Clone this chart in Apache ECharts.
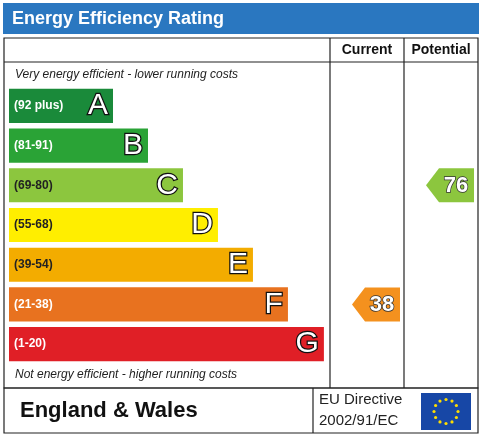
<!DOCTYPE html>
<html><head><meta charset="utf-8">
<script src="https://cdn.jsdelivr.net/npm/echarts@6/dist/echarts.min.js"></script>
<style>html,body{margin:0;padding:0;background:#fff}#c{width:483px;height:437px}</style>
</head><body><div id="c"></div>
<script>
const bands = ['A','B','C','D','E','F','G'];
const ranges = ['(92 plus)','(81-91)','(69-80)','(55-68)','(39-54)','(21-38)','(1-20)'];
const barLengths = [32.4, 43.3, 54.2, 65.1, 76, 86.9, 98.1];
const colors = ['#1a8a3a','#2aa336','#8cc63e','#ffee00','#f3ac00','#e8721f','#e01f26'];
const rangeTextColors = ['#fff','#fff','#222','#222','#222','#fff','#fff'];
const currentRating = {value: 38, band: 'F'};
const potentialRating = {value: 76, band: 'C'};
const arrowColor = {A:'#1a8a3a',B:'#2aa336',C:'#8cc63e',D:'#ffee00',E:'#f3ac00',F:'#f4911e',G:'#e01f26'};

const chart = echarts.init(document.getElementById('c'));
const F = 'Arial, "Liberation Sans", sans-serif';
const gridTop = 86, gridH = 278;
function arrowSeries(idx, rating){
  return {
    type:'custom', xAxisIndex:idx, yAxisIndex:idx,
    data:[[0.5, rating.band, rating.value]],
    renderItem:(params, api)=>{
      const p = api.coord([api.value(0), bands.indexOf(rating.band)]);
      const h = 34, w = 48, x0 = p[0]-w/2+9, tip = 13;
      const col = arrowColor[rating.band];
      return {type:'group', children:[
        {type:'polygon', shape:{points:[[x0,p[1]],[x0+tip,p[1]-h/2],[x0+w,p[1]-h/2],[x0+w,p[1]+h/2],[x0+tip,p[1]+h/2]]}, style:{fill:col}},
        {type:'text', style:{text:String(api.value(2)), x:x0+w/2+6, y:p[1]+1, align:'center', verticalAlign:'middle', font:'bold 22px '+F, fill:'#fff', stroke:'#333', lineWidth:1.5}}
      ]};
    }
  };
}
const yBase = {type:'category', data:bands, inverse:true, show:false};
chart.setOption({
  animation:false,
  grid:[
    {left:9, top:gridTop, width:321, height:gridH},
    {left:330, top:gridTop, width:74, height:gridH},
    {left:404, top:gridTop, width:74, height:gridH}
  ],
  xAxis:[
    {type:'value', min:0, max:100, show:false, gridIndex:0},
    {type:'value', min:0, max:1, show:false, gridIndex:1},
    {type:'value', min:0, max:1, show:false, gridIndex:2}
  ],
  yAxis:[Object.assign({gridIndex:0},yBase),Object.assign({gridIndex:1},yBase),Object.assign({gridIndex:2},yBase)],
  series:[
    {type:'bar', barCategoryGap:'14%',
     data: barLengths.map((v,i)=>({value:v, itemStyle:{color:colors[i]}, label:{color:rangeTextColors[i]}})),
     label:{show:true, position:'insideLeft', distance:5, formatter:p=>ranges[p.dataIndex],
       fontWeight:'bold', fontSize:12, fontFamily:F}},
    {type:'bar', barCategoryGap:'14%', barGap:'-100%', silent:true,
     data: barLengths.map(v=>({value:v, itemStyle:{color:'transparent'}})),
     label:{show:true, position:'insideRight', distance:5, formatter:p=>bands[p.dataIndex], fontSize:30, fontFamily:F,
       color:'#fff', textBorderColor:'#111', textBorderWidth:2.5}},
    arrowSeries(1, currentRating),
    arrowSeries(2, potentialRating)
  ],
  graphic:[
    {type:'rect', shape:{x:3,y:3,width:476,height:31}, style:{fill:'#2a77c0'}},
    {type:'text', style:{text:'Energy Efficiency Rating', x:12, y:19, verticalAlign:'middle', font:'bold 18px '+F, fill:'#fff'}},
    {type:'rect', shape:{x:4,y:38,width:474,height:350}, style:{fill:'none', stroke:'#222', lineWidth:1.2}},
    {type:'line', shape:{x1:4,y1:62,x2:478,y2:62}, style:{stroke:'#222', lineWidth:1.2}},
    {type:'line', shape:{x1:330,y1:38,x2:330,y2:388}, style:{stroke:'#222', lineWidth:1.2}},
    {type:'line', shape:{x1:404,y1:38,x2:404,y2:388}, style:{stroke:'#222', lineWidth:1.2}},
    {type:'text', style:{text:'Current', x:367, y:50, align:'center', verticalAlign:'middle', font:'bold 14px '+F, fill:'#111'}},
    {type:'text', style:{text:'Potential', x:441, y:50, align:'center', verticalAlign:'middle', font:'bold 14px '+F, fill:'#111'}},
    {type:'text', style:{text:'Very energy efficient - lower running costs', x:15, y:75, verticalAlign:'middle', font:'italic 12px '+F, fill:'#222'}},
    {type:'text', style:{text:'Not energy efficient - higher running costs', x:15, y:375, verticalAlign:'middle', font:'italic 12px '+F, fill:'#222'}},
    {type:'rect', shape:{x:4,y:388,width:474,height:45}, style:{fill:'none', stroke:'#222', lineWidth:1.2}},
    {type:'line', shape:{x1:313,y1:388,x2:313,y2:433}, style:{stroke:'#222', lineWidth:1.2}},
    {type:'text', style:{text:'England & Wales', x:20, y:411, verticalAlign:'middle', font:'bold 22px '+F, fill:'#111'}},
    {type:'text', style:{text:'EU Directive', x:319, y:400, verticalAlign:'middle', font:'15px '+F, fill:'#222'}},
    {type:'text', style:{text:'2002/91/EC', x:319, y:421, verticalAlign:'middle', font:'15px '+F, fill:'#222'}},
    {type:'rect', shape:{x:421,y:393,width:50,height:37}, style:{fill:'#1747a6'}}
  ].concat(Array.from({length:12},(_,k)=>({type:'circle', shape:{cx:446+12*Math.cos(k*Math.PI/6), cy:411.5+12*Math.sin(k*Math.PI/6), r:1.6}, style:{fill:'#ffde00'}})))
});
</script></body></html>
